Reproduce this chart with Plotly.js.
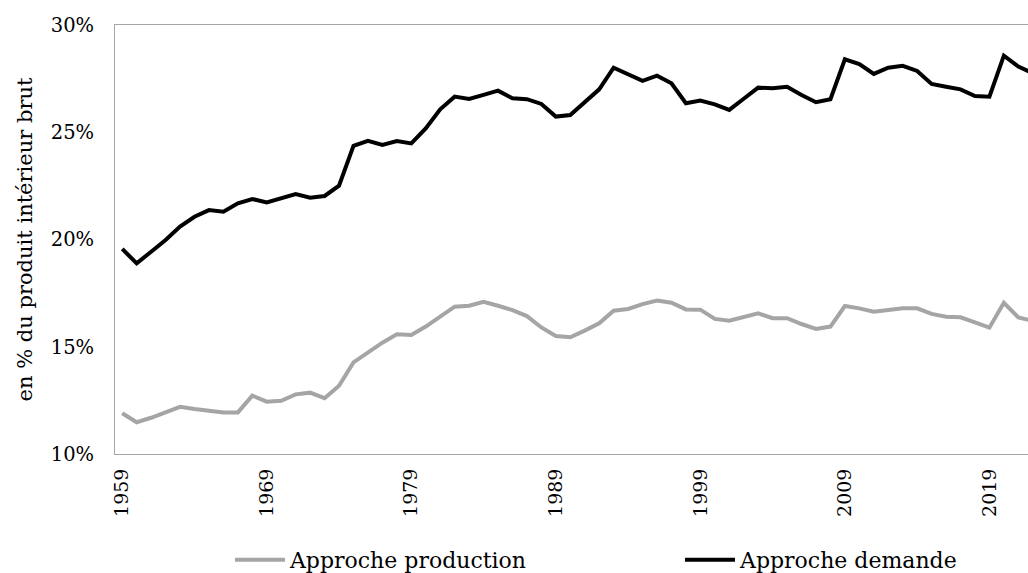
<!DOCTYPE html>
<html>
<head>
<meta charset="utf-8">
<script src="https://cdn.plot.ly/plotly-3.0.1.min.js"></script>
<style>
html, body { margin: 0; padding: 0; overflow: hidden; background: #fff; }
#chart { width: 1045px; height: 573px; }
</style>
</head>
<body>
<div id="chart"></div>
<script>
const years = [1959,1960,1961,1962,1963,1964,1965,1966,1967,1968,1969,1970,1971,1972,1973,1974,1975,1976,1977,1978,1979,
  1980,1981,1982,1983,1984,1985,1986,1987,1988,1989,1990,1991,1992,1993,1994,1995,1996,1997,1998,1999,
  2000,2001,2002,2003,2004,2005,2006,2007,2008,2009,2010,2011,2012,2013,2014,2015,2016,2017,2018,2019,
  2020,2021,2022];

const approcheProduction = [11.9,11.48,11.69,11.97,12.2,12.1,12.0,11.93,11.94,12.72,12.44,12.48,12.78,12.86,12.6,13.18,14.27,14.72,15.19,15.58,15.55,
  15.94,16.4,16.87,16.91,17.1,16.91,16.71,16.43,15.9,15.5,15.44,15.75,16.09,16.68,16.76,16.99,17.15,17.05,16.74,16.73,
  16.3,16.21,16.37,16.56,16.33,16.33,16.06,15.83,15.94,16.9,16.79,16.63,16.71,16.79,16.79,16.53,16.4,16.37,16.14,15.89,
  17.05,16.37,16.2];

const approcheDemande = [19.56,18.89,19.43,19.98,20.6,21.06,21.37,21.3,21.69,21.89,21.73,21.92,22.12,21.95,22.03,22.51,24.37,24.6,24.41,24.59,24.48,
  25.18,26.07,26.66,26.55,26.74,26.94,26.58,26.54,26.32,25.73,25.8,26.4,27.0,28.01,27.7,27.4,27.64,27.28,26.35,26.48,
  26.3,26.04,26.56,27.08,27.05,27.12,26.74,26.4,26.54,28.4,28.18,27.72,28.01,28.1,27.86,27.25,27.12,27.0,26.69,26.66,
  28.57,28.06,27.75];

const tickYears = [1959,1969,1979,1989,1999,2009,2019];
const tickYearLabels = ['1959','1969','1979','1989','1999','2009','2019'];
const yTicks = [10,15,20,25,30];
const yTickLabels = ['10%','15%','20%','25%','30%'];

const FONT = 'DejaVu Serif, serif';

const traces = [
  {
    x: years, y: approcheProduction, type: 'scatter', mode: 'lines',
    name: 'Approche production',
    legend: 'legend',
    line: { color: '#a5a5a5', width: 4 }
  },
  {
    x: years, y: approcheDemande, type: 'scatter', mode: 'lines',
    name: 'Approche demande',
    legend: 'legend2',
    line: { color: '#000000', width: 4 }
  }
];

const legendBase = {
  orientation: 'h',
  xanchor: 'left',
  y: -0.247, yanchor: 'middle',
  font: { family: FONT, size: 22, color: '#000' },
  itemwidth: 50,
  bgcolor: 'rgba(0,0,0,0)',
  borderwidth: 0
};

const layout = {
  width: 1045,
  height: 573,
  margin: { l: 115, r: 5, t: 25, b: 119, autoexpand: false },
  paper_bgcolor: '#ffffff',
  plot_bgcolor: '#ffffff',
  font: { family: FONT, color: '#000', size: 19 },
  showlegend: true,
  legend: Object.assign({}, legendBase, { x: 0.1243 }),
  legend2: Object.assign({}, legendBase, { x: 0.6108 }),
  xaxis: {
    type: 'linear',
    range: [1958.5, 2022.5],
    tickvals: tickYears,
    ticktext: tickYearLabels,
    tickangle: -90,
    ticks: '',
    showgrid: false,
    zeroline: false,
    showline: true,
    linecolor: '#a6a6a6',
    linewidth: 1,
    mirror: true,
    ticklabelstandoff: 6,
    tickfont: { family: FONT, size: 19, color: '#000' },
    automargin: false
  },
  yaxis: {
    range: [10, 30],
    tickvals: yTicks,
    ticktext: yTickLabels,
    ticks: '',
    showgrid: false,
    zeroline: false,
    showline: true,
    linecolor: '#a6a6a6',
    linewidth: 1,
    mirror: true,
    ticklabelstandoff: 16,
    tickfont: { family: FONT, size: 19.5, color: '#000' },
    title: { text: 'en % du produit intérieur brut', font: { family: FONT, size: 21, color: '#000' }, standoff: 12 },
    automargin: false
  }
};

Plotly.newPlot('chart', traces, layout, { displayModeBar: false, staticPlot: true });
</script>
</body>
</html>
